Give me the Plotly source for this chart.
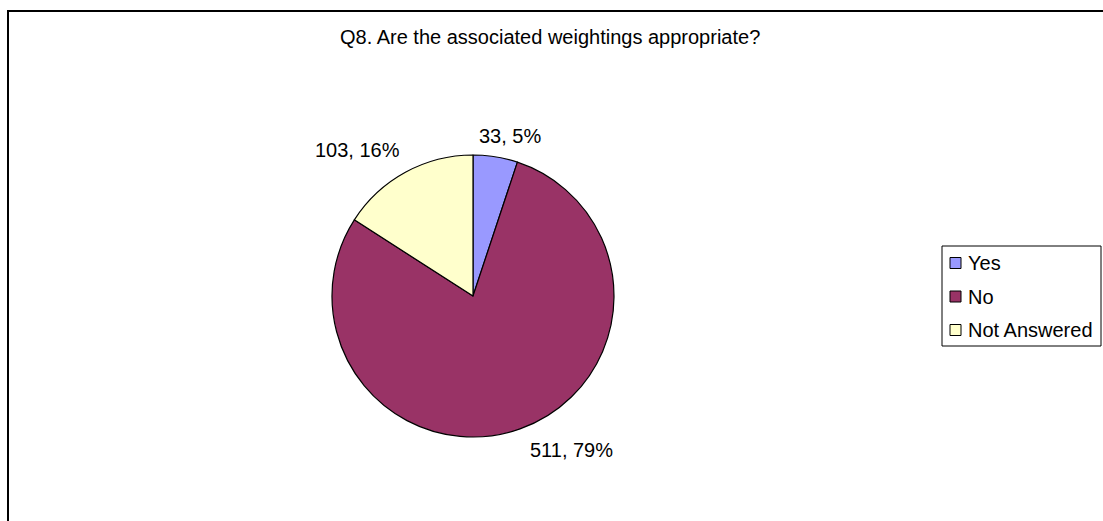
import math
import plotly.graph_objects as go

# Survey responses for Q8
categories = ["Yes", "No", "Not Answered"]
counts = [33, 511, 103]
colors = ["#9999FF", "#993366", "#FFFFCC"]

W, H = 1103, 521
cx, cy, r = 473, 296, 141          # pie centre and radius (px)
FONT = "Arial, Liberation Sans, sans-serif"
FS = 20

# pixel nudges of each data label away from its slice edge
label_nudge = [(15, 21), (51, -21), (-48, 22)]

total = sum(counts)


def px(x):
    return x / W


def py(y):
    return 1 - y / H


fig = go.Figure(
    go.Pie(
        labels=categories,
        values=counts,
        sort=False,
        direction="clockwise",
        rotation=0,
        marker=dict(colors=colors, line=dict(color="black", width=1.2)),
        textinfo="none",
        showlegend=False,
        hoverinfo="label+value+percent",
        domain=dict(x=[px(cx - r), px(cx + r)], y=[py(cy + r), py(cy - r)]),
    )
)

annotations = []
shapes = []

# data labels "value, percent" placed outside each slice
start = 0.0
for name, v, (dx, dy) in zip(categories, counts, label_nudge):
    frac = v / total
    mid = (start + frac / 2) * 2 * math.pi
    start += frac
    ex = cx + r * math.sin(mid)
    ey = cy - r * math.cos(mid)
    annotations.append(
        dict(
            x=px(ex), y=py(ey), xref="paper", yref="paper",
            text=f"{v}, {round(frac * 100)}%",
            showarrow=False, xanchor="center", yanchor="middle",
            xshift=dx, yshift=dy,
            font=dict(family=FONT, size=FS, color="black"),
        )
    )

# title
annotations.append(
    dict(
        x=px(550), y=py(37), xref="paper", yref="paper",
        text="Q8. Are the associated weightings appropriate?",
        showarrow=False, xanchor="center", yanchor="middle",
        font=dict(family=FONT, size=FS, color="black"),
    )
)

# legend box with keys
lg_left, lg_top, lg_right, lg_bottom = 942, 246, 1101, 346
row_y0, row_step = 263, 33.5
key = 11
shapes.append(
    dict(type="rect", xref="paper", yref="paper",
         x0=px(lg_left), x1=px(lg_right), y0=py(lg_bottom), y1=py(lg_top),
         line=dict(color="black", width=1), fillcolor="white", layer="below")
)
for i, (name, col) in enumerate(zip(categories, colors)):
    yc = row_y0 + i * row_step
    shapes.append(
        dict(type="rect", xref="paper", yref="paper",
             x0=px(950), x1=px(950 + key), y0=py(yc + key / 2), y1=py(yc - key / 2),
             line=dict(color="black", width=1), fillcolor=col)
    )
    annotations.append(
        dict(x=px(966), y=py(yc), xref="paper", yref="paper",
             text=name, showarrow=False, xanchor="left", yanchor="middle",
             font=dict(family=FONT, size=FS, color="black"))
    )

# chart-area frame
shapes.append(
    dict(type="rect", xref="paper", yref="paper",
         x0=px(8), x1=1.05, y0=-0.05, y1=py(11),
         line=dict(color="black", width=2))
)

fig.update_layout(
    width=W,
    height=H,
    margin=dict(l=0, r=0, t=0, b=0),
    paper_bgcolor="white",
    plot_bgcolor="white",
    font=dict(family=FONT, size=FS, color="black"),
    annotations=annotations,
    shapes=shapes,
)

fig.write_html("out.html")
